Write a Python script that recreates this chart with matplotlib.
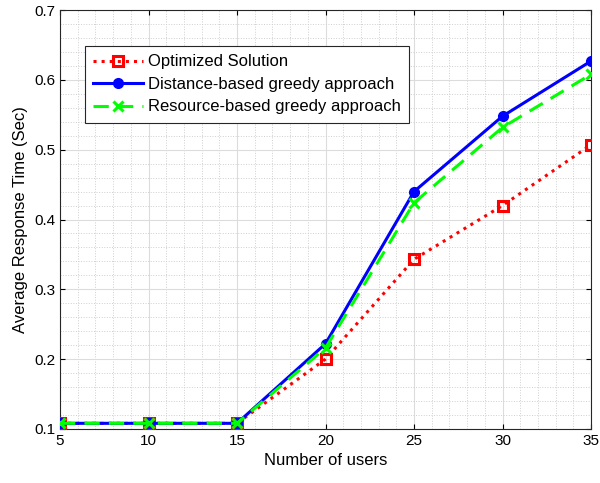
import matplotlib.pyplot as plt
from matplotlib.ticker import MultipleLocator

plt.rcParams['font.family'] = ['Liberation Sans', 'DejaVu Sans']

users = [5, 10, 15, 20, 25, 30, 35]
optimized = [0.108, 0.108, 0.108, 0.200, 0.343, 0.420, 0.507]
distance = [0.108, 0.108, 0.108, 0.222, 0.440, 0.548, 0.627]
resource = [0.108, 0.108, 0.108, 0.216, 0.424, 0.532, 0.608]

fig = plt.figure(figsize=(6, 4.83), dpi=100)
ax = fig.add_axes([0.100, 0.112, 0.885, 0.867])

ax.plot(users, optimized, color='red', linestyle=':', linewidth=2.2,
        marker='s', markersize=6.5, markerfacecolor='none', markeredgewidth=2.2,
        label='Optimized Solution', zorder=3)
ax.plot(users, distance, color='blue', linestyle='-', linewidth=2.2,
        marker='o', markersize=7, label='Distance-based greedy approach', zorder=4)
ax.plot(users, resource, color='#00ff00', linestyle=(0, (5, 3)), linewidth=2.2,
        marker='x', markersize=7, markeredgewidth=2.2,
        label='Resource-based greedy approach', zorder=5)

ax.set_xlim(5, 35)
ax.set_ylim(0.1, 0.7)
ax.xaxis.set_major_locator(MultipleLocator(5))
ax.xaxis.set_minor_locator(MultipleLocator(1))
ax.yaxis.set_major_locator(MultipleLocator(0.1))
ax.yaxis.set_minor_locator(MultipleLocator(0.02))
ax.grid(True, which='major', color='#dcdcdc', linewidth=0.8)
ax.grid(True, which='minor', color='#cfcfcf', linestyle=':', linewidth=0.7)
ax.set_axisbelow(True)
ax.tick_params(which='both', direction='in', top=True, right=True, labelsize=11)
ax.tick_params(which='minor', length=0)
for s in ax.spines.values():
    s.set_color('#262626')
    s.set_linewidth(0.8)

ax.set_xlabel('Number of users', fontsize=12)
ax.set_ylabel('Average Response Time (Sec)', fontsize=12)

leg = ax.legend(loc='upper left', bbox_to_anchor=(0.047, 0.914), fontsize=12,
                fancybox=False, framealpha=1, edgecolor='#262626',
                handlelength=3.0, handletextpad=0.3, borderpad=0.5,
                labelspacing=0.45, borderaxespad=0)
leg.get_frame().set_linewidth(0.8)

fig.savefig('out.png', dpi=100)
